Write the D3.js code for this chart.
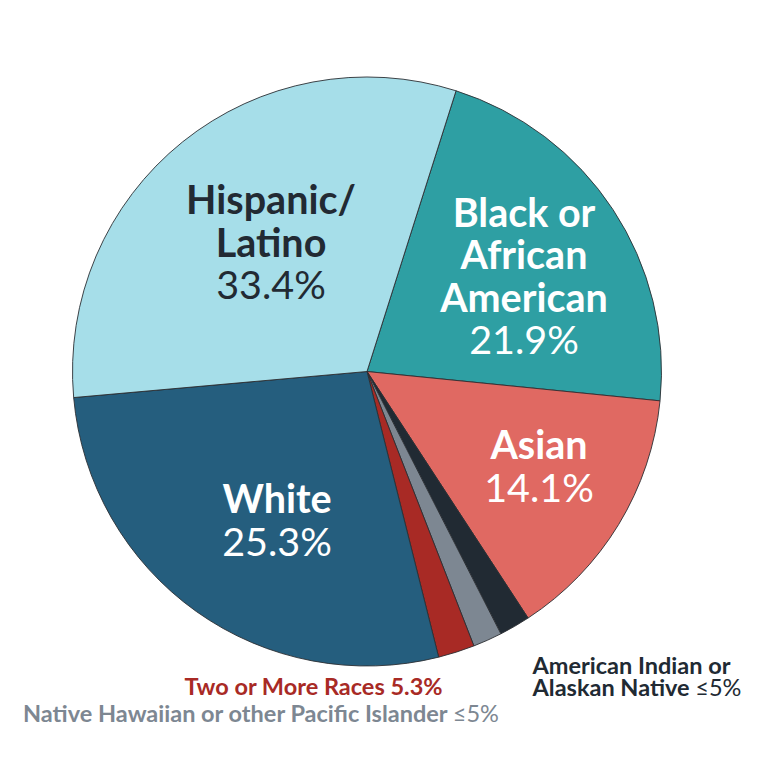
<!DOCTYPE html>
<html>
<head>
<meta charset="utf-8">
<script src="https://cdn.jsdelivr.net/npm/d3@7"></script>
<style>
  html, body { margin: 0; padding: 0; background: #fff; }
  svg text { font-family: Lato, "Open Sans", sans-serif; }
</style>
</head>
<body>
<svg id="chart" width="760" height="760"></svg>
<script>
const categories = ["Black or African American", "Asian", "American Indian or Alaskan Native",
                    "Native Hawaiian or other Pacific Islander", "Two or More Races", "White", "Hispanic/Latino"];
const sliceValues = [21.7, 14.2, 1.7, 1.6, 2.0, 27.5, 31.3];
const labelLines = [["Black or", "African", "American"], ["Asian"], [], [], [], ["White"], ["Hispanic/", "Latino"]];
const labelPercents = ["21.9%", "14.1%", "", "", "", "25.3%", "33.4%"];
const colors = ["#2e9fa3", "#e06962", "#212a33", "#7d8792", "#a82a25", "#255e7e", "#a6dee9"];
const textColors = ["#ffffff", "#ffffff", "", "", "", "#ffffff", "#222a33"];

// ---- layout ----
const W = 760, H = 760;
const cx = 367, cy = 371.5, R = 294.5;
const startDeg = 17.6;
const lineGap = 42.5;
// label anchor offsets (x centre, first baseline) relative to pie centre
const labelOffsets = [[157, -145], [172, 87.5], null, null, null, [-90, 141.5], [-96, -157.5]];

const svg = d3.select("#chart");
const g = svg.append("g").attr("transform", `translate(${cx},${cy})`);

const pie = d3.pie().sort(null).value(d => d)
  .startAngle(startDeg * Math.PI / 180)
  .endAngle((startDeg + 360) * Math.PI / 180);
const arcs = pie(sliceValues);
const arc = d3.arc().innerRadius(0).outerRadius(R);

g.selectAll("path.slice").data(arcs).join("path")
  .attr("class", "slice")
  .attr("d", arc)
  .attr("fill", (d, i) => colors[i])
  .attr("stroke", "#2b2f33")
  .attr("stroke-width", 0.9)
  .attr("stroke-linejoin", "round");

// in-slice labels
arcs.forEach((a, i) => {
  const off = labelOffsets[i];
  if (!off) return;
  const t = g.append("text")
    .attr("text-anchor", "middle")
    .attr("fill", textColors[i])
    .style("font-size", "39.5px");
  const lines = labelLines[i];
  lines.forEach((ln, k) => {
    t.append("tspan").attr("x", off[0]).attr("y", off[1] + k * lineGap)
      .style("font-weight", 700).text(ln);
  });
  t.append("tspan").attr("x", off[0]).attr("y", off[1] + lines.length * lineGap)
    .style("font-weight", 400).text(labelPercents[i]);
});

// outside labels for the small slices
const outer = svg.append("g").style("font-size", "23.5px");
const two = outer.append("text").attr("x", 313.5).attr("y", 694.5)
  .attr("text-anchor", "middle").attr("fill", "#a82a25").style("font-weight", 700);
two.append("tspan").text("Two or More Races 5.3%");

const nh = outer.append("text").attr("x", 261).attr("y", 721.5)
  .attr("text-anchor", "middle").attr("fill", "#7d8792").style("font-weight", 700);
nh.append("tspan").text("Native Hawaiian or other Pacific Islander ");
nh.append("tspan").style("font-weight", 400).text("≤5%");

const ai = outer.append("text").attr("x", 532.5).attr("fill", "#212a33").style("font-weight", 700);
ai.append("tspan").attr("x", 532.5).attr("y", 673.5).text("American Indian or");
ai.append("tspan").attr("x", 532.5).attr("y", 695.5).text("Alaskan Native ");
ai.append("tspan").style("font-weight", 400).text("≤5%");
</script>
</body>
</html>
